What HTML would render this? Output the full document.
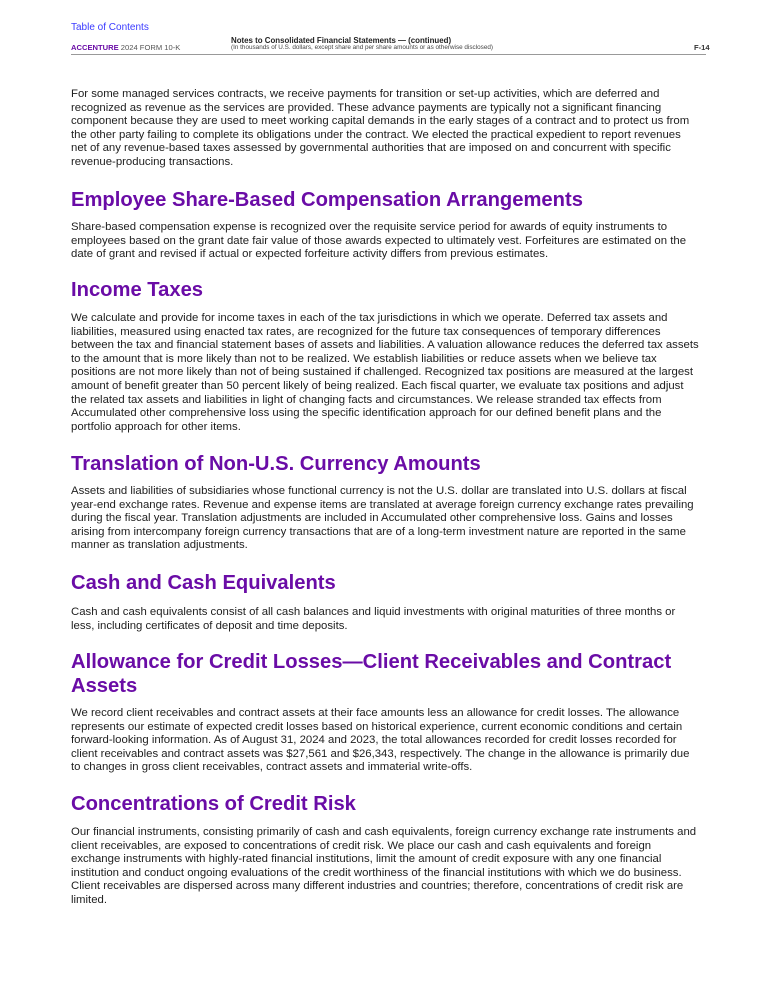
<!DOCTYPE html>
<html><head><meta charset="utf-8"><style>
body{margin:0;width:773px;height:1000px;background:#fff;position:relative;overflow:hidden;font-family:"Liberation Sans",sans-serif;color:#1e1e1e}
.p{position:absolute;left:71px;font-size:11.37px;line-height:13.6px;white-space:nowrap}
.h{position:absolute;left:71px;font-size:20.2px;line-height:24px;font-weight:bold;color:#6a0ca6;white-space:nowrap}
.hd{position:absolute;white-space:nowrap;font-size:7.6px;line-height:8px}
</style></head><body>
<div class="hd" style="left:71px;top:22px;font-size:10px;line-height:11px;color:#3a3aff">Table of Contents</div>
<div class="hd" style="left:71px;top:44px;color:#555"><b style="color:#6a0ca6">ACCENTURE</b> 2024 FORM 10-K</div>
<div class="hd" style="left:231px;top:37px;font-size:7.9px;font-weight:bold;color:#222">Notes to Consolidated Financial Statements — (continued)</div>
<div class="hd" style="left:231px;top:44px;font-size:6.35px;color:#444">(In thousands of U.S. dollars, except share and per share amounts or as otherwise disclosed)</div>
<div class="hd" style="left:694px;top:44px;font-weight:bold;color:#333">F-14</div>
<div style="position:absolute;left:71px;top:54px;width:635px;height:1px;background:#999"></div>

<div class="p" style="top:88px">For some managed services contracts, we receive payments for transition or set-up activities, which are deferred and<br>recognized as revenue as the services are provided. These advance payments are typically not a significant financing<br>component because they are used to meet working capital demands in the early stages of a contract and to protect us from<br>the other party failing to complete its obligations under the contract. We elected the practical expedient to report revenues<br>net of any revenue-based taxes assessed by governmental authorities that are imposed on and concurrent with specific<br>revenue-producing transactions.</div>

<div class="h" style="top:188px">Employee Share-Based Compensation Arrangements</div>
<div class="p" style="top:221px">Share-based compensation expense is recognized over the requisite service period for awards of equity instruments to<br>employees based on the grant date fair value of those awards expected to ultimately vest. Forfeitures are estimated on the<br>date of grant and revised if actual or expected forfeiture activity differs from previous estimates.</div>

<div class="h" style="top:278px">Income Taxes</div>
<div class="p" style="top:312px">We calculate and provide for income taxes in each of the tax jurisdictions in which we operate. Deferred tax assets and<br>liabilities, measured using enacted tax rates, are recognized for the future tax consequences of temporary differences<br>between the tax and financial statement bases of assets and liabilities. A valuation allowance reduces the deferred tax assets<br>to the amount that is more likely than not to be realized. We establish liabilities or reduce assets when we believe tax<br>positions are not more likely than not of being sustained if challenged. Recognized tax positions are measured at the largest<br>amount of benefit greater than 50 percent likely of being realized. Each fiscal quarter, we evaluate tax positions and adjust<br>the related tax assets and liabilities in light of changing facts and circumstances. We release stranded tax effects from<br>Accumulated other comprehensive loss using the specific identification approach for our defined benefit plans and the<br>portfolio approach for other items.</div>

<div class="h" style="top:452px">Translation of Non-U.S. Currency Amounts</div>
<div class="p" style="top:485px">Assets and liabilities of subsidiaries whose functional currency is not the U.S. dollar are translated into U.S. dollars at fiscal<br>year-end exchange rates. Revenue and expense items are translated at average foreign currency exchange rates prevailing<br>during the fiscal year. Translation adjustments are included in Accumulated other comprehensive loss. Gains and losses<br>arising from intercompany foreign currency transactions that are of a long-term investment nature are reported in the same<br>manner as translation adjustments.</div>

<div class="h" style="top:571px">Cash and Cash Equivalents</div>
<div class="p" style="top:606px">Cash and cash equivalents consist of all cash balances and liquid investments with original maturities of three months or<br>less, including certificates of deposit and time deposits.</div>

<div class="h" style="top:650px">Allowance for Credit Losses—Client Receivables and Contract<br>Assets</div>
<div class="p" style="top:707px">We record client receivables and contract assets at their face amounts less an allowance for credit losses. The allowance<br>represents our estimate of expected credit losses based on historical experience, current economic conditions and certain<br>forward-looking information. As of August 31, 2024 and 2023, the total allowances recorded for credit losses recorded for<br>client receivables and contract assets was $27,561 and $26,343, respectively. The change in the allowance is primarily due<br>to changes in gross client receivables, contract assets and immaterial write-offs.</div>

<div class="h" style="top:792px">Concentrations of Credit Risk</div>
<div class="p" style="top:826px">Our financial instruments, consisting primarily of cash and cash equivalents, foreign currency exchange rate instruments and<br>client receivables, are exposed to concentrations of credit risk. We place our cash and cash equivalents and foreign<br>exchange instruments with highly-rated financial institutions, limit the amount of credit exposure with any one financial<br>institution and conduct ongoing evaluations of the credit worthiness of the financial institutions with which we do business.<br>Client receivables are dispersed across many different industries and countries; therefore, concentrations of credit risk are<br>limited.</div>
</body></html>
